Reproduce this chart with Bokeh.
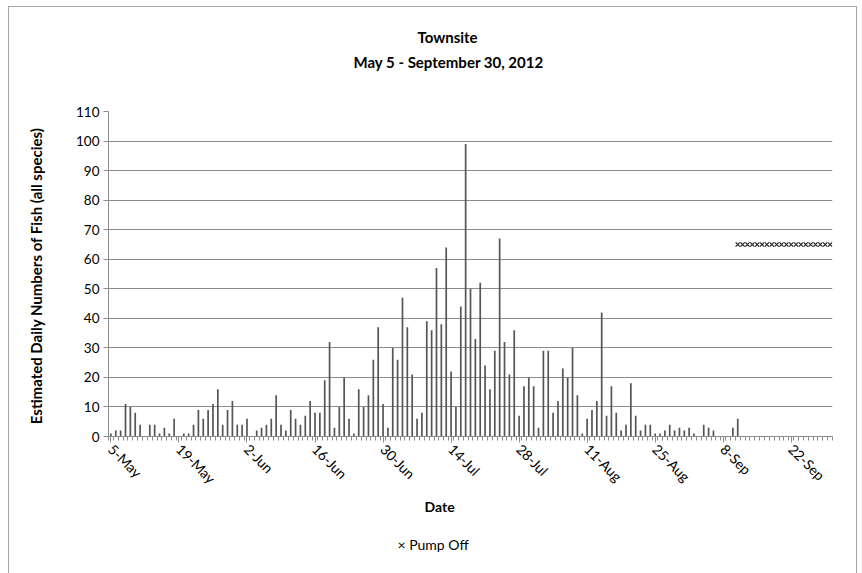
import math
from bokeh.plotting import figure
from bokeh.models import Range1d, FixedTicker, ColumnDataSource, Title
from bokeh.embed import file_html
from bokeh.resources import INLINE

# Daily estimated fish counts, May 5 (index 0) to Sep 30 (index 148), 2012
fish_counts = [
    1, 2, 2, 11, 10, 8, 4, 0, 4, 4, 1, 3, 1, 6, 0, 1, 1, 4, 9, 6,
    9, 11, 16, 4, 9, 12, 4, 4, 6, 0, 2, 3, 4, 6, 14, 4, 2, 9, 6, 4,
    7, 12, 8, 8, 19, 32, 3, 10, 20, 6, 1, 16, 10, 14, 26, 37, 11, 3, 30, 26,
    47, 37, 21, 6, 8, 39, 36, 57, 38, 64, 22, 10, 44, 99, 50, 33, 52, 24, 16, 29,
    67, 32, 21, 36, 7, 17, 20, 17, 3, 29, 29, 8, 12, 23, 20, 30, 14, 1, 6, 9,
    12, 42, 7, 17, 8, 2, 4, 18, 7, 2, 4, 4, 1, 1, 2, 4, 2, 3, 2, 3,
    1, 0, 4, 3, 2, 0, 0, 0, 3, 6, 0, 0, 0, 0, 0, 0, 0, 0, 0, 0,
    0, 0, 0, 0, 0, 0, 0, 0, 0,
]
day_index = list(range(len(fish_counts)))

tick_days = [0, 14, 28, 42, 56, 70, 84, 98, 112, 126, 140]
tick_labels = ["5-May", "19-May", "2-Jun", "16-Jun", "30-Jun", "14-Jul",
               "28-Jul", "11-Aug", "25-Aug", "8-Sep", "22-Sep"]

pump_off_days = [129, 130, 131, 132, 133, 134, 135, 136, 137, 138,
                 139, 140, 141, 142, 143, 144, 145, 146, 147, 148]
pump_off_values = [65, 65, 65, 65, 65, 65, 65, 65, 65, 65,
                   65, 65, 65, 65, 65, 65, 65, 65, 65, 65]

y_ticks = [0, 10, 20, 30, 40, 50, 60, 70, 80, 90, 100, 110]

FONT = "Lato"
GRAY = "#8c8c8c"
BORDER = "#a6a6a6"

p = figure(width=862, height=573, output_backend="svg", toolbar_location=None,
           title=None,
           x_range=Range1d(-0.5, len(fish_counts) - 0.5), y_range=Range1d(0, 110),
           min_border_left=108, min_border_right=30, min_border_top=111,
           min_border_bottom=137)
p.outline_line_color = None
p.background_fill_color = "white"
p.border_fill_alpha = 0
p.styles = {
    "background": (
        f"linear-gradient({BORDER},{BORDER}) 8px 6px / 1px 600px no-repeat, "
        f"linear-gradient({BORDER},{BORDER}) 8px 6px / 849px 1px no-repeat, "
        f"linear-gradient({BORDER},{BORDER}) 856px 6px / 1px 600px no-repeat, white"
    )
}

src = ColumnDataSource(dict(day=day_index, count=fish_counts))
p.vbar(x="day", top="count", width=0.35, source=src,
       fill_color="#555555", line_color=None)

pump = p.scatter(x=pump_off_days, y=pump_off_values, marker="x", size=6,
                 line_color="#262626", line_width=1.2)

# y axis
p.yaxis.ticker = FixedTicker(ticks=y_ticks)
p.yaxis.axis_line_color = GRAY
p.yaxis.major_tick_line_color = GRAY
p.yaxis.major_tick_out = 5
p.yaxis.major_tick_in = 0
p.yaxis.minor_tick_line_color = None
p.yaxis.major_label_text_font = FONT
p.yaxis.major_label_text_font_size = "13.5px"
p.yaxis.major_label_text_color = "#000000"
p.yaxis.major_label_standoff = 4
p.yaxis.axis_label = "Estimated Daily  Numbers of Fish (all species)"
p.yaxis.axis_label_text_font = FONT
p.yaxis.axis_label_text_font_style = "bold"
p.yaxis.axis_label_text_font_size = "15px"
p.yaxis.axis_label_text_color = "#000000"
p.yaxis.axis_label_standoff = 28

# x axis
p.xaxis.ticker = FixedTicker(ticks=tick_days,
                             minor_ticks=[d - 0.5 for d in day_index] + [len(fish_counts) - 0.5])
p.xaxis.major_label_overrides = {d: lab for d, lab in zip(tick_days, tick_labels)}
p.xaxis.major_label_orientation = -math.pi / 4
p.xaxis.axis_line_color = GRAY
p.xaxis.major_tick_line_color = GRAY
p.xaxis.major_tick_out = 6
p.xaxis.major_tick_in = 0
p.xaxis.minor_tick_line_color = GRAY
p.xaxis.minor_tick_out = 4
p.xaxis.minor_tick_in = 0
p.xaxis.major_label_text_font = FONT
p.xaxis.major_label_text_font_size = "14px"
p.xaxis.major_label_text_color = "#000000"
p.xaxis.major_label_standoff = 4

p.xgrid.grid_line_color = None
p.ygrid.ticker = FixedTicker(ticks=y_ticks)
p.ygrid.grid_line_color = GRAY
p.ygrid.grid_line_width = 1

# spacer between frame and titles, then subtitle, then main title
p.add_layout(Title(text=" ", standoff=22, text_font=FONT,
                   text_font_size="14px"), "above")
p.add_layout(Title(text="May 5 - September 30, 2012", align="left", offset=245,
                   standoff=0, text_font=FONT, text_font_style="bold",
                   text_font_size="15px", text_color="#000000"), "above")
p.add_layout(Title(text="Townsite", align="left", offset=309, standoff=10,
                   text_font=FONT, text_font_style="bold",
                   text_font_size="15px", text_color="#000000"), "above")

# axis title and legend line below the axis
p.add_layout(Title(text="Date", align="left", offset=316, standoff=0,
                   text_font=FONT, text_font_style="bold",
                   text_font_size="14px", text_color="#000000"), "below")
p.add_layout(Title(text="\u00d7  Pump Off", align="left", offset=289, standoff=38,
                   text_font=FONT, text_font_style="normal",
                   text_font_size="14px", text_color="#000000"), "below")

open("out.html", "w").write(file_html(p, INLINE))
